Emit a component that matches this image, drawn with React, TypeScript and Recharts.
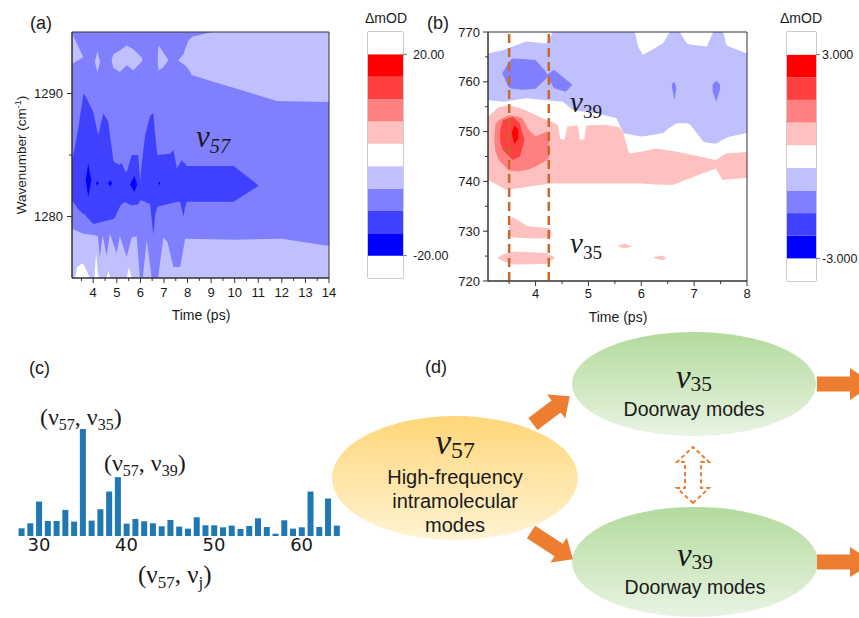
import React from "react";
import {
  ComposedChart, Area, XAxis, YAxis, ReferenceArea, ReferenceLine,
  BarChart, Bar, ScatterChart, Scatter,
} from "recharts";

const SANS = "'Liberation Sans', Arial, sans-serif";
const SERIF = "'Liberation Serif', 'Times New Roman', serif";
const DEJAVU = "'DejaVu Sans', sans-serif";
const INK = "#1a1a1a";
const AXIS = "#333";

// contour level colours (Origin style 11-level map)
const DEEP_BLUE = "#0000FF";
const BLUE = "#4040FF";
const MID_BLUE = "#8080FF";
const LIGHT_BLUE = "#C0C0FF";
const WHITE = "#FFFFFF";
const PINK = "#FFC0C0";
const MID_RED = "#FF8080";
const RED = "#FF4040";
const DEEP_RED = "#FF0000";

type Band = [number, number, number][]; // [time, low, high]

// ---------- panel (a): v57, 1275-1295 cm-1 ----------
const aBase: Band = [[3.1, 1275, 1295], [14, 1275, 1295]];
const aLightTopLeft: Band = [[3.1, 1292.4, 1294.9], [3.58, 1292.95, 1292.95]];
const aLightIsland1: Band = [[4.07, 1292.6, 1292.6], [4.18, 1291.7, 1293.4], [4.29, 1292.6, 1292.6]];
const aLightIsland2: Band = [
  [4.78, 1292.7, 1292.7], [4.85, 1292.1, 1293.2], [5.13, 1291.75, 1293.5], [5.42, 1292.3, 1293.9],
  [5.7, 1291.9, 1293.6], [6.06, 1292.6, 1292.9], [6.1, 1292.75, 1292.75],
];
const aLightIsland3: Band = [[6.74, 1292.4, 1293.2], [6.78, 1291.9, 1293.9], [6.95, 1292.1, 1293.4], [7.19, 1292.7, 1292.7]];
const aLightTopRight: Band = [
  [7.6, 1292.7, 1292.7], [7.83, 1292.35, 1293.2], [7.9, 1292.3, 1293.6], [8.04, 1292.0, 1294.3],
  [8.18, 1291.5, 1294.6], [9.03, 1291.0, 1295], [11.8, 1289.4, 1295], [14, 1289.3, 1295],
];
const aLightBottom: Band = [
  [3.1, 1275, 1279.0], [3.57, 1275, 1278.6], [4.0, 1275, 1278.5], [4.2, 1275, 1278.4], [4.28, 1275, 1276.6],
  [4.4, 1275, 1278.5], [4.57, 1275, 1276.8], [4.71, 1275, 1278.6], [4.99, 1275, 1277.0], [5.13, 1275, 1278.4],
  [5.42, 1275, 1276.7], [5.63, 1275, 1278.3], [5.84, 1275, 1278.4], [5.98, 1275, 1275], [6.1, 1275, 1275],
  [6.27, 1275, 1278.1], [6.48, 1275, 1275], [6.75, 1275, 1275], [6.98, 1275, 1278.3], [7.15, 1275, 1277.9],
  [7.4, 1275, 1275.9], [7.69, 1275, 1275.9], [7.9, 1275, 1278.2], [10, 1275, 1278.1], [12, 1275, 1278.2],
  [14, 1275, 1277.6],
];
const aWhiteBottom: Band = [
  [3.22, 1275, 1275], [3.32, 1275, 1275.9], [3.55, 1275, 1276.2], [3.7, 1275, 1275.7], [3.86, 1275, 1275],
  [4.05, 1275, 1275], [4.12, 1275, 1277.1], [4.2, 1275, 1275.3], [4.25, 1275, 1275], [4.57, 1275, 1275],
  [4.64, 1275, 1275.6], [4.72, 1275, 1275], [5.42, 1275, 1275], [5.52, 1275, 1275.9], [5.63, 1275, 1275],
];
const aBlue: Band = [
  [3.1, 1281.3, 1284.6], [3.18, 1281.1, 1285.2], [3.36, 1280.6, 1287.1], [3.57, 1280.2, 1289.8],
  [3.62, 1280.2, 1290.0], [4.0, 1279.4, 1288.5], [4.21, 1279.5, 1286.6], [4.43, 1279.6, 1288.4],
  [4.64, 1279.7, 1287.7], [4.85, 1279.8, 1284.6], [4.92, 1279.9, 1284.4], [5.13, 1280.8, 1284.2],
  [5.2, 1281.0, 1284.4], [5.35, 1281.2, 1283.7], [5.42, 1281.1, 1283.6], [5.63, 1280.9, 1285.0],
  [5.91, 1281.0, 1285.0], [5.99, 1281.3, 1282.8], [6.06, 1281.3, 1284.4], [6.2, 1281.2, 1286.6],
  [6.41, 1281.0, 1288.2], [6.55, 1278.5, 1288.4], [6.63, 1280.2, 1286.6], [6.72, 1280.8, 1285.0],
  [7.26, 1281.05, 1285.1], [7.4, 1281.1, 1285.4], [7.55, 1281.2, 1283.9], [7.69, 1281.2, 1284.4],
  [7.76, 1280.5, 1284.6], [7.83, 1280.0, 1284.4], [7.9, 1280.8, 1284.3], [7.97, 1281.2, 1284.1],
  [9.96, 1281.2, 1284.1], [11.02, 1282.5, 1282.5],
];
const aDeep1: Band = [[3.68, 1282.9, 1282.9], [3.79, 1281.6, 1284.3], [3.92, 1282.9, 1282.9]];
const aDeep2: Band = [[4.12, 1282.7, 1282.7], [4.18, 1282.5, 1282.9], [4.24, 1282.7, 1282.7]];
const aDeep3: Band = [[4.62, 1282.7, 1282.7], [4.72, 1282.45, 1282.95], [4.82, 1282.7, 1282.7]];
const aDeep4: Band = [[5.56, 1282.6, 1282.6], [5.75, 1282.0, 1283.3], [5.86, 1282.6, 1282.6]];
const aDeep5: Band = [[6.77, 1282.7, 1282.7], [6.81, 1282.55, 1282.85], [6.85, 1282.7, 1282.7]];

const aTimeTicks = [3.5, 4, 4.5, 5, 5.5, 6, 6.5, 7, 7.5, 8, 8.5, 9, 9.5, 10, 10.5, 11, 11.5, 12, 12.5, 13, 13.5, 14];
const aWaveTicks = [1280, 1285, 1290];

// ---------- panel (b): v39 / v35, 720-770 cm-1 ----------
const bLightBlue: Band = [
  [3.1, 756.3, 765.7], [3.4, 756.0, 766.4], [3.82, 756.7, 768.1], [4.2, 756.3, 767.7], [4.28, 756.2, 769.1],
  [4.33, 756.2, 770], [4.52, 756.0, 770], [4.71, 754.3, 770], [5.15, 753.7, 770], [5.53, 752.7, 770],
  [5.66, 749.7, 770], [5.88, 749.2, 770], [5.94, 749.1, 767.1], [6.03, 749.0, 765.4], [6.41, 749.7, 767.7],
  [6.54, 750.8, 770], [6.67, 751.7, 770], [6.73, 751.7, 770], [6.86, 751.7, 767.7], [6.92, 751.5, 767.5],
  [7.17, 748.0, 767.2], [7.24, 747.8, 767.1], [7.36, 747.6, 770], [7.42, 747.6, 770], [7.55, 748.4, 770],
  [7.61, 748.7, 767.4], [7.68, 749.0, 767.0], [8.0, 749.7, 765.7],
];
const bMidBlue: Band = [
  [3.37, 761.7, 761.7], [3.49, 758.9, 763.9], [3.56, 758.6, 764.7], [3.75, 758.4, 764.6], [4.0, 758.6, 764.4],
  [4.19, 760.5, 762.1], [4.22, 761.0, 761.4], [4.35, 758.7, 762.4], [4.57, 758.0, 760.5], [4.7, 759.4, 759.4],
];
const bSpike1: Band = [[6.58, 758.8, 759.6], [6.63, 756.3, 760.0], [6.66, 758.5, 759.0]];
const bSpike2: Band = [[7.35, 758.0, 759.5], [7.42, 756.0, 760.2], [7.49, 758.5, 759.5]];
const bPink: Band = [
  [3.1, 740.3, 753.0], [3.3, 739.2, 754.9], [3.43, 738.3, 755.2], [3.5, 738.4, 755.3], [3.68, 738.6, 754.8],
  [3.81, 738.9, 754.3], [4.22, 739.5, 752.3], [4.32, 739.6, 752.0], [4.42, 739.6, 751.3], [4.47, 739.6, 748.5],
  [4.55, 739.6, 748.3], [4.6, 739.6, 751.0], [4.8, 739.6, 751.2], [4.84, 739.6, 748.4], [4.92, 739.6, 748.4],
  [4.96, 739.6, 751.2], [5.3, 739.6, 751.4], [5.58, 739.6, 750.9], [5.66, 739.6, 749.7], [5.77, 739.6, 745.6],
  [6.02, 739.6, 746.0], [6.27, 739.4, 746.6], [6.59, 739.3, 746.1], [6.84, 740.3, 745.6], [7.41, 742.6, 744.3],
  [7.54, 740.3, 745.2], [7.6, 740.4, 745.6], [8.0, 740.7, 745.9],
];
const bMidRed: Band = [
  [3.22, 748.5, 748.5], [3.24, 746.0, 751.5], [3.3, 744.3, 752.3], [3.49, 742.2, 753.3], [3.68, 742.0, 753.0],
  [3.75, 742.2, 752.7], [3.87, 742.4, 750.3], [4.0, 743.0, 749.0], [4.22, 744.3, 750.0], [4.26, 745.0, 749.2],
];
const bRed: Band = [[3.33, 748.0, 750.0], [3.38, 746.3, 752.3], [3.57, 744.3, 753.0], [3.7, 745.0, 751.7], [3.76, 747.0, 749.5], [3.79, 748.3, 748.3]];
const bDeepRed: Band = [[3.55, 749.5, 749.8], [3.6, 747.5, 751.2], [3.67, 748.5, 750.5]];
const bPinkIsland1: Band = [[3.5, 729.2, 731.2], [3.55, 728.8, 732.9], [3.85, 728.6, 731.0], [4.27, 728.6, 730.6], [4.3, 729.3, 729.8]];
const bPinkIsland2: Band = [[3.27, 724.6, 724.6], [3.4, 723.9, 725.4], [3.6, 723.3, 725.9], [4.2, 723.4, 725.6], [4.36, 724.5, 724.8]];
const bPinkDot1: Band = [[5.58, 726.9, 727.2], [5.68, 726.6, 727.5], [5.82, 726.9, 727.0]];
const bPinkDot2: Band = [[6.24, 724.6, 724.8], [6.4, 724.1, 725.1], [6.47, 724.6, 724.6]];
const bWindow = [3.5, 4.25];

const bTimeTicks = [3.5, 4, 4.5, 5, 5.5, 6, 6.5, 7, 7.5, 8];
const bWaveTicks = [720, 725, 730, 735, 740, 745, 750, 755, 760, 765, 770];

// colour bar, bottom segment first
const barLevels = [WHITE, DEEP_BLUE, BLUE, MID_BLUE, LIGHT_BLUE, WHITE, PINK, MID_RED, RED, DEEP_RED, WHITE];
const aBarLabels = ["20.00", "-20.00"];
const bBarLabels = ["3.000", "-3.000"];

// ---------- panel (c): coupling to v57 ----------
const modeJ = [28, 29, 30, 31, 32, 33, 34, 35, 36, 37, 38, 39, 40, 41, 42, 43, 44, 45, 46, 47, 48, 49, 50, 51, 52, 53, 54, 55, 56, 57, 58, 59, 60, 61, 62, 63, 64];
const coupling = [
  0.023, 0.038, 0.103, 0.045, 0.045, 0.078, 0.043, 0.320, 0.046, 0.080, 0.133, 0.176, 0.037,
  0.051, 0.044, 0.038, 0.029, 0.048, 0.028, 0.022, 0.056, 0.032, 0.032, 0.026, 0.031, 0.021,
  0.030, 0.053, 0.027, 0.007, 0.047, 0.022, 0.026, 0.133, 0.027, 0.112, 0.031,
];
const couplingRows = modeJ.map((j, i) => ({ j, value: coupling[i] }));

// ---------- panel (d): energy flow diagram ----------
const nodeModes = ["57", "35", "39"];
const nodeText = [["High-frequency", "intramolecular", "modes"], ["Doorway modes"], ["Doorway modes"]];
const nodeLayout = [
  { x: 135, y: 148, rx: 123, ry: 62, c1: "#FFD679", c2: "#FFF3D2" },
  { x: 374, y: 54, rx: 122, ry: 52, c1: "#B3DA9D", c2: "#E9F4E3" },
  { x: 375, y: 232, rx: 123, ry: 55, c1: "#B3DA9D", c2: "#E9F4E3" },
];
const nodeRows = nodeLayout.map((n, i) => ({ ...n, id: i, mode: nodeModes[i], lines: nodeText[i] }));
const arrowRows = [
  { x: 213, y: 94, angle: -37, len: 46, shaft: 15, head: 30, headLen: 17 },
  { x: 211, y: 202, angle: 33, len: 50, shaft: 15, head: 30, headLen: 17 },
  { x: 497, y: 54, angle: 0, len: 57, shaft: 15, head: 32, headLen: 24 },
  { x: 497, y: 232, angle: 0, len: 57, shaft: 15, head: 30, headLen: 24 },
  { x: 373, y: 173, angle: -90, len: 56, shaft: 16, head: 32, headLen: 15, dashed: true },
];

const toPts = (b: Band) => b.map(([t, lo, hi]) => ({ t, r: [lo, hi] }));

function level(data: Band, fill: string, key: string) {
  return (
    <Area
      key={key}
      data={toPts(data)}
      dataKey="r"
      type="linear"
      fill={fill}
      fillOpacity={1}
      stroke="none"
      dot={false}
      activeDot={false}
      isAnimationActive={false}
    />
  );
}

const bottomTick = (dy: number) => (p: any) => {
  const { x, y, payload } = p;
  const major = Number.isInteger(payload.value);
  return (
    <g>
      <line x1={x} x2={x} y1={y} y2={y + (major ? 5 : 3)} stroke={AXIS} />
      {major && (
        <text x={x} y={y + dy} textAnchor="middle" fontSize={13} fontFamily={SANS} fill={INK}>
          {payload.value}
        </text>
      )}
    </g>
  );
};

const leftTick = (gap: number) => (p: any) => {
  const { x, y, payload } = p;
  const major = payload.value % 10 === 0;
  return (
    <g>
      <line x1={x} x2={x - (major ? 5 : 3)} y1={y} y2={y} stroke={AXIS} />
      {major && (
        <text x={x - gap} y={y} dy="0.36em" textAnchor="end" fontSize={13} fontFamily={SANS} fill={INK}>
          {payload.value}
        </text>
      )}
    </g>
  );
};

function ContourA() {
  return (
    <ComposedChart width={345} height={330} margin={{ top: 32, right: 16, bottom: 22, left: 0 }}>
      <XAxis type="number" dataKey="t" domain={[3.1, 14]} allowDataOverflow ticks={aTimeTicks} interval={0}
        height={30} tickSize={0} tickMargin={0} tickLine={false} axisLine={{ stroke: AXIS }} tick={bottomTick(19)} />
      <YAxis type="number" domain={[1275, 1295]} allowDataOverflow ticks={aWaveTicks} interval={0}
        width={72} tickSize={0} tickMargin={0} tickLine={false} axisLine={{ stroke: AXIS }} tick={leftTick(9)} />
      {level(aBase, MID_BLUE, "base")}
      {level(aLightTopLeft, LIGHT_BLUE, "l1")}
      {level(aLightIsland1, LIGHT_BLUE, "l2")}
      {level(aLightIsland2, LIGHT_BLUE, "l3")}
      {level(aLightIsland3, LIGHT_BLUE, "l4")}
      {level(aLightTopRight, LIGHT_BLUE, "l5")}
      {level(aLightBottom, LIGHT_BLUE, "l6")}
      {level(aWhiteBottom, WHITE, "w1")}
      {level(aBlue, BLUE, "b1")}
      {level(aDeep1, DEEP_BLUE, "d1")}
      {level(aDeep2, DEEP_BLUE, "d2")}
      {level(aDeep3, DEEP_BLUE, "d3")}
      {level(aDeep4, DEEP_BLUE, "d4")}
      {level(aDeep5, DEEP_BLUE, "d5")}
      <ReferenceArea y1={1275} y2={1295} fill="none" stroke={AXIS} strokeWidth={1} />
    </ComposedChart>
  );
}

function ContourB() {
  return (
    <ComposedChart width={340} height={330} margin={{ top: 32, right: 23, bottom: 19, left: 0 }}>
      <XAxis type="number" dataKey="t" domain={[3.1, 8]} allowDataOverflow ticks={bTimeTicks} interval={0}
        height={30} tickSize={0} tickMargin={0} tickLine={false} axisLine={{ stroke: AXIS }} tick={bottomTick(17)} />
      <YAxis type="number" domain={[720, 770]} allowDataOverflow ticks={bWaveTicks} interval={0}
        width={58} tickSize={0} tickMargin={0} tickLine={false} axisLine={{ stroke: AXIS }} tick={leftTick(8)} />
      {level(bLightBlue, LIGHT_BLUE, "lb")}
      {level(bMidBlue, MID_BLUE, "mb")}
      {level(bSpike1, MID_BLUE, "s1")}
      {level(bSpike2, MID_BLUE, "s2")}
      {level(bPink, PINK, "p")}
      {level(bMidRed, MID_RED, "mr")}
      {level(bRed, RED, "r")}
      {level(bDeepRed, DEEP_RED, "dr")}
      {level(bPinkIsland1, PINK, "pi1")}
      {level(bPinkIsland2, PINK, "pi2")}
      {level(bPinkDot1, PINK, "pd1")}
      {level(bPinkDot2, PINK, "pd2")}
      {bWindow.map((t) => (
        <ReferenceLine key={t} x={t} stroke="#C8692A" strokeWidth={2.5} strokeDasharray="9 5" />
      ))}
      <ReferenceArea y1={720} y2={770} fill="none" stroke={AXIS} strokeWidth={1} />
    </ComposedChart>
  );
}

const barRow = [Object.fromEntries(barLevels.map((_, i) => [`s${i}`, 1]))];

function ColorBar({ width, plotLeft, plotW, bottom, labels, margin }: any) {
  return (
    <BarChart width={width} height={300} data={barRow} margin={{ top: 32, right: 0, bottom, left: plotLeft }} barCategoryGap={0}>
      <XAxis hide />
      <YAxis orientation="right" width={width - plotLeft - plotW} domain={[0, 11]} ticks={[1, 10]} interval={0}
        tickFormatter={(v: number) => (v === 10 ? labels[0] : labels[1])} axisLine={false}
        tickLine={{ stroke: "#777" }} tickSize={4} tickMargin={margin}
        tick={{ fontSize: 12.5, fontFamily: SANS, fill: INK, textAnchor: "start" }} />
      {barLevels.map((c, i) => (
        <Bar key={i} dataKey={`s${i}`} stackId="cb" fill={c} isAnimationActive={false} />
      ))}
      <ReferenceArea y1={0} y2={11} fill="none" stroke="#999" strokeWidth={1} />
    </BarChart>
  );
}

function Couplings() {
  return (
    <BarChart width={345} height={200} data={couplingRows} margin={{ top: 49, right: 4, bottom: 14, left: 17 }} barCategoryGap="18%">
      <XAxis dataKey="j" interval={0} height={30} tickSize={0} tickMargin={0} axisLine={false} tickLine={false}
        tick={(p: any) =>
          p.payload.value % 10 === 0 ? (
            <text x={p.x} y={p.y + 15} textAnchor="middle" fontSize={18} fontFamily={DEJAVU} fill={INK}>{p.payload.value}</text>
          ) : (
            <g />
          )
        } />
      <YAxis hide domain={[0, 0.32]} allowDataOverflow />
      <Bar dataKey="value" fill="#1F77B4" isAnimationActive={false} />
    </BarChart>
  );
}

function ModeText({ x, y, size, sub, anchor = "start", italicSub = false, subScale = 0.66, drop = 0.2 }: any) {
  return (
    <text x={x} y={y} fontFamily={SERIF} fontSize={size} fontStyle="italic" textAnchor={anchor} fill={INK}>
      ν
      <tspan fontSize={size * subScale} dy={size * drop} fontStyle={italicSub ? "italic" : "normal"}>{sub}</tspan>
    </text>
  );
}

const NodeShape = (props: any) => {
  const { cx, cy, payload: n } = props;
  const gid = `node-grad-${n.id}`;
  const big = n.lines.length > 1;
  return (
    <g>
      <defs>
        <linearGradient id={gid} x1="0" y1="0" x2="0" y2="1">
          <stop offset="0" stopColor={n.c1} />
          <stop offset="1" stopColor={n.c2} />
        </linearGradient>
      </defs>
      <ellipse cx={cx} cy={cy} rx={n.rx} ry={n.ry} fill={`url(#${gid})`} />
      {big ? (
        <ModeText x={cx} y={cy - 24} size={36} sub={n.mode} anchor="middle" drop={0.1} />
      ) : (
        <ModeText x={cx} y={cy + 4} size={33} sub={n.mode} anchor="middle" subScale={0.65} drop={0.1} />
      )}
      {n.lines.map((s: string, i: number) => (
        <text key={i} x={cx} y={cy + (big ? 6 + i * 24 : 32)} textAnchor="middle" fontSize={big ? 20 : 19.5} fontFamily={SANS} fill={INK}>
          {s}
        </text>
      ))}
    </g>
  );
};

const ArrowShape = (props: any) => {
  const { cx, cy, payload: a } = props;
  const L = a.len, w = a.shaft / 2, hw = a.head / 2, hl = a.headLen;
  const pts = a.dashed
    ? [[0, 0], [hl, -hw], [hl, -w], [L - hl, -w], [L - hl, -hw], [L, 0], [L - hl, hw], [L - hl, w], [hl, w], [hl, hw]]
    : [[0, -w], [L - hl, -w], [L - hl, -hw], [L, 0], [L - hl, hw], [L - hl, w], [0, w]];
  return (
    <polygon
      points={pts.map((p) => p.join(",")).join(" ")}
      transform={`translate(${cx},${cy}) rotate(${a.angle})`}
      fill={a.dashed ? "#FFFFFF" : "#ED7D31"}
      stroke={a.dashed ? "#ED7D31" : "none"}
      strokeWidth={a.dashed ? 2 : 0}
      strokeDasharray={a.dashed ? "4 3" : undefined}
    />
  );
};

function Diagram() {
  return (
    <ScatterChart width={539} height={288} margin={{ top: 0, right: 0, bottom: 0, left: 0 }}>
      <XAxis type="number" dataKey="x" domain={[0, 539]} hide allowDataOverflow />
      <YAxis type="number" dataKey="y" domain={[0, 288]} reversed hide allowDataOverflow />
      <Scatter data={nodeRows} shape={NodeShape} isAnimationActive={false} />
      <Scatter data={arrowRows} shape={ArrowShape} isAnimationActive={false} />
    </ScatterChart>
  );
}

function Overlay() {
  const t = { fontFamily: SANS, fill: INK } as any;
  const s = { fontFamily: SERIF, fill: INK } as any;
  return (
    <svg width={859} height={618} style={{ position: "absolute", left: 0, top: 0, pointerEvents: "none" }}>
      <text x={30} y={29} fontSize={18} {...t}>(a)</text>
      <text x={427} y={29} fontSize={18} {...t}>(b)</text>
      <text x={29} y={374} fontSize={18} {...t}>(c)</text>
      <text x={425} y={373} fontSize={18} {...t}>(d)</text>
      <text x={386} y={23} fontSize={14} textAnchor="middle" {...t}>ΔmOD</text>
      <text x={801} y={23} fontSize={14} textAnchor="middle" {...t}>ΔmOD</text>
      <text x={201} y={320} fontSize={14} textAnchor="middle" {...t}>Time (ps)</text>
      <text x={618} y={322} fontSize={14} textAnchor="middle" {...t}>Time (ps)</text>
      <text transform="translate(26,155) rotate(-90)" fontSize={13.5} textAnchor="middle" {...t}>
        Wavenumber (cm<tspan dy={-5} fontSize={9}>-1</tspan><tspan dy={5}>)</tspan>
      </text>
      <ModeText x={196} y={147} size={31} sub="57" italicSub />
      <ModeText x={570} y={112} size={29} sub="39" />
      <ModeText x={570} y={253} size={29} sub="35" />
      <text x={40} y={425} fontSize={24} {...s}>
        (ν<tspan fontSize={16} dy={5}>57</tspan><tspan dy={-5}>, ν</tspan><tspan fontSize={16} dy={5}>35</tspan><tspan dy={-5}>)</tspan>
      </text>
      <text x={104} y={471} fontSize={24} {...s}>
        (ν<tspan fontSize={16} dy={5}>57</tspan><tspan dy={-5}>, ν</tspan><tspan fontSize={16} dy={5}>39</tspan><tspan dy={-5}>)</tspan>
      </text>
      <text x={138} y={583} fontSize={25} {...s}>
        (ν<tspan fontSize={17} dy={5}>57</tspan><tspan dy={-5}>, ν</tspan><tspan fontSize={17} dy={5}>j</tspan><tspan dy={-5}>)</tspan>
      </text>
    </svg>
  );
}

export default function App() {
  return (
    <div style={{ position: "absolute", left: 0, top: 0, width: 859, height: 618, background: "#fff", overflow: "hidden" }}>
      <div style={{ position: "absolute", left: 320, top: 330 }}><Diagram /></div>
      <div style={{ position: "absolute", left: 0, top: 0 }}><ContourA /></div>
      <div style={{ position: "absolute", left: 360, top: 0 }}>
        <ColorBar width={90} plotLeft={8} plotW={35} bottom={22} labels={aBarLabels} margin={6} />
      </div>
      <div style={{ position: "absolute", left: 430, top: 0 }}><ContourB /></div>
      <div style={{ position: "absolute", left: 780, top: 0 }}>
        <ColorBar width={79} plotLeft={7} plotW={29} bottom={19} labels={bBarLabels} margin={2} />
      </div>
      <div style={{ position: "absolute", left: 0, top: 380 }}><Couplings /></div>
      <Overlay />
    </div>
  );
}
